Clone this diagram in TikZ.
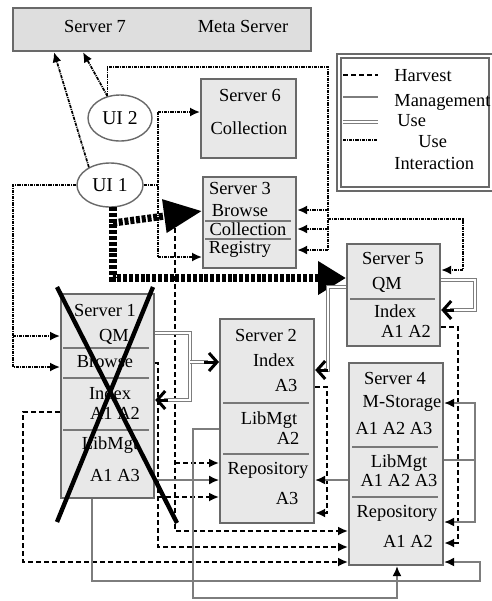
\documentclass[tikz,border=0pt]{standalone}
\usepackage{fontspec}
\setmainfont{Liberation Serif}
\usetikzlibrary{arrows.meta,shapes.geometric}
\definecolor{boxfill}{RGB}{232,232,232}
\definecolor{sevenfill}{RGB}{222,222,222}
\definecolor{boxline}{RGB}{105,105,105}
\definecolor{sepcol}{RGB}{120,120,120}
\definecolor{mgcol}{RGB}{125,125,125}
\begin{document}
\begin{tikzpicture}[x=0.5pt,y=-0.5pt,
  srv/.style={draw=boxline, fill=boxfill, line width=1.1pt, inner sep=0pt, anchor=north west},
  lbl/.style={inner sep=0pt, text height=6.5pt, text depth=2pt, font=\fontsize{9.2}{11}\selectfont},
  sepline/.style={draw=sepcol, line width=0.8pt},
  hvst/.style={draw=black, line width=0.9pt, dash pattern=on 2.5pt off 1.5pt},
  mgmt/.style={draw=mgcol, line width=0.75pt},
  uuse/.style={draw=mgcol, double=white, line width=0.5pt, double distance=1pt},
  inter/.style={draw=black, line width=0.85pt, dash pattern=on 1.6pt off 0.5pt on 0.5pt off 0.5pt},
  bigline/.style={draw=black, line width=3.6pt, dash pattern=on 2pt off 0.9pt},
  tip/.style={-{Latex[length=5pt,width=4.5pt,color=black]}},
  barb/.style={draw=black, line width=1.5pt, -{Straight Barb[length=4pt,width=9pt]}},
  bigtip/.style={-{Triangle[length=14pt,width=16pt]}},
  uinode/.style={ellipse, draw=boxline, fill=white, line width=0.7pt, inner sep=0pt, font=\fontsize{9.8}{11}\selectfont},
  crossline/.style={draw=black, line width=2.2pt}
]
\useasboundingbox (0,0) rectangle (492,601);

% ---------- boxes ----------
\node (s7) [srv, fill=sevenfill, minimum width=149pt, minimum height=21.5pt] at (12,7) {};
\node (s6) [srv, minimum width=47.5pt, minimum height=39.5pt] at (200,78) {};
\node (s3) [srv, minimum width=46.5pt, minimum height=45.5pt] at (202,176) {};
\node (s5) [srv, minimum width=46.5pt, minimum height=51pt] at (346,243) {};
\node (s4) [srv, minimum width=47pt, minimum height=101pt] at (348,362) {};
\node (s2) [srv, minimum width=47pt, minimum height=102pt] at (219,318) {};
\node (s1) [srv, minimum width=46.5pt, minimum height=102pt] at (60,293) {};
\node (leg) [draw=boxline, double=white, line width=0.8pt, double distance=1.2pt, fill=white,
  minimum width=76pt, minimum height=66.5pt, anchor=north west, inner sep=0pt] at (338,55) {};

% separators
\draw[sepline] (205,221) -- (291,221);
\draw[sepline] (205,239) -- (291,239);
\draw[sepline] (350,299) -- (435,299);
\draw[sepline] (352,447) -- (438,447);
\draw[sepline] (352,497) -- (438,497);
\draw[sepline] (223,403) -- (309,403);
\draw[sepline] (223,454) -- (309,454);
\draw[sepline] (63,348) -- (149,348);
\draw[sepline] (63,378) -- (149,378);
\draw[sepline] (63,430) -- (149,430);

% ---------- texts ----------
\node[lbl] (t7a) at (95,28) {Server 7};
\node[lbl] (t7b) at (243,28) {Meta Server};
\node[lbl] (t6a) at (250,97) {Server 6};
\node[lbl] (t6b) at (249,130) {Collection};
\node[lbl] (t3a) at (240,190) {Server 3};
\node[lbl] (t3b) at (240,212) {Browse};
\node[lbl] (t3c) at (248,231) {Collection};
\node[lbl] (t3d) at (240,249) {Registry};
\node[lbl] (t5a) at (393,260) {Server 5};
\node[lbl] (t5b) at (387,285) {QM};
\node[lbl] (t5c) at (395,313) {Index};
\node[lbl] (t5d) at (406,333) {A1 A2};
\node[lbl] (t4a) at (395,380) {Server 4};
\node[lbl] (t4b) at (402,403) {M-Storage};
\node[lbl] (t4c) at (394,430) {A1 A2 A3};
\node[lbl] (t4d) at (399,463) {LibMgt};
\node[lbl] (t4e) at (399,482) {A1 A2 A3};
\node[lbl] (t4f) at (397,513) {Repository};
\node[lbl] (t4g) at (408,543) {A1 A2};
\node[lbl] (t2a) at (266,337) {Server 2};
\node[lbl] (t2b) at (274,362) {Index};
\node[lbl] (t2c) at (286,387) {A3};
\node[lbl] (t2d) at (269,420) {LibMgt};
\node[lbl] (t2e) at (288,440) {A2};
\node[lbl] (t2f) at (268,470) {Repository};
\node[lbl] (t2g) at (287,500) {A3};
\node[lbl] (t1a) at (105,312) {Server 1};
\node[lbl] (t1b) at (114,337) {QM};
\node[lbl] (t1c) at (105,363) {Browse};
\node[lbl] (t1d) at (110,395) {Index};
\node[lbl] (t1e) at (115,415) {A1 A2};
\node[lbl] (t1f) at (110,445) {LibMgt};
\node[lbl] (t1g) at (115,477) {A1 A3};

% legend
\draw[hvst] (343,75) -- (378,75);
\draw[mgmt] (343,97) -- (378,97);
\draw[uuse] (343,122) -- (378,122);
\draw[inter] (343,140) -- (378,140);
\node[lbl, anchor=base west] (lg1) at (394,81) {Harvest};
\node[lbl, anchor=base west] (lg2) at (394,106) {Management};
\node[lbl, anchor=base west] (lg3) at (397,126) {Use};
\node[lbl, anchor=base west] (lg4) at (418,147) {Use};
\node[lbl, anchor=base west] (lg5) at (394,169) {Interaction};

% ---------- UI ellipses ----------
\node (ui2) [uinode, minimum width=32pt, minimum height=23pt] at (120,118) {UI 2};
\node (ui1) [uinode, minimum width=33pt, minimum height=22pt] at (110,185) {UI 1};

% ---------- use interaction ----------
\draw[inter,tip] (ui1.140) -- (s7.south -| 54,0);
\draw[inter,tip] (ui2.120) -- (s7.south -| 83,0);
\coordinate (jA) at (328,67);
\coordinate (jB) at (328,219);
\draw[inter] (ui2.120) |- (jA) -- (328,250);
\draw[inter,tip] (328,210) -- (s3.east |- 0,210);
\draw[inter,tip] (328,229) -- (s3.east |- 0,229);
\draw[inter,tip] (328,250) -- (s3.east |- 0,250);
\draw[inter,tip] (jB) -| (463,270) -- (s5.east |- 0,270);
\coordinate (jD) at (158,112);
\coordinate (jE) at (158,257);
\draw[inter] (ui1.east) -- (158,185);
\draw[inter] (jD) -- (jE);
\draw[inter,tip] (jD) -- (s6.west |- jD);
\draw[inter,tip] (jE) -- (s3.west |- jE);
\draw[inter,tip] (ui1.west) -| (13,367) -- (s1.west |- 0,367);
\draw[inter,tip] (13,336) -- (s1.west |- 0,336);

% ---------- big use lines ----------
\draw[bigline,bigtip] (113,207) -- (113,278) -- (s5.west |- 0,278);
\draw[bigline,-{Triangle[length=19pt,width=16pt]}] (113,223) -- (s3.west |- 0,211);

% ---------- harvest ----------
\draw[hvst,tip] (175,228) -- (175,531) -- (s4.west |- 0,531);
\draw[hvst,tip] (175,463) -- (s2.west |- 0,463);
\draw[hvst,tip] (s1.east |- 0,363) -| (158,547) -- (s4.west |- 0,547);
\draw[hvst,tip] (158,497) -- (s2.west |- 0,497);
\draw[hvst,tip] (s1.west |- 0,412) -| (23,562) -- (s4.west |- 0,562);
\draw[hvst,tip] (s2.east |- 0,387) -| (327,513) -- (s2.east |- 0,513);
\draw[hvst,tip] (s5.east |- 0,327) -| (458,543) -- (s4.east |- 0,543);

% ---------- management ----------
\draw[mgmt,tip] (s1.east |- 0,480) -- (s2.west |- 0,480);
\draw[mgmt,tip] (s1.south -| 92,0) |- (480,581) |- (s4.east |- 0,562);
\draw[mgmt,tip] (s2.west |- 0,429) -| (193,598) -| (s4.south -| 397,0);
\draw[mgmt,tip] (s4.west |- 0,480) -- (s2.east |- 0,480);
\draw[mgmt] (s4.east |- 0,460) -- (475,460);
\draw[mgmt,tip] (475,460) |- (s4.east |- 0,403);
\draw[mgmt,tip] (475,460) |- (s4.east |- 0,522);

% ---------- use (double) ----------
\draw[uuse] (s1.east |- 0,333) -| (190,400) -- (164,400);
\draw[barb] (168,400) -- (s1.east |- 0,400);
\draw[uuse] (190,362) -- (208,362);
\draw[barb] (204,362) -- (s2.west |- 0,362);
\draw[uuse] (s5.west |- 0,287) -| (328,370) -- (324,370);
\draw[barb] (328,370) -- (s2.east |- 0,370);
\draw[uuse] (s5.east |- 0,280) -| (475,310) -- (450,310);
\draw[barb] (454,310) -- (s5.east |- 0,310);

% ---------- cross over server 1 ----------
\draw[crossline] (57,287) -- (177,523);
\draw[crossline] (153,287) -- (57,522);
\end{tikzpicture}
\end{document}
